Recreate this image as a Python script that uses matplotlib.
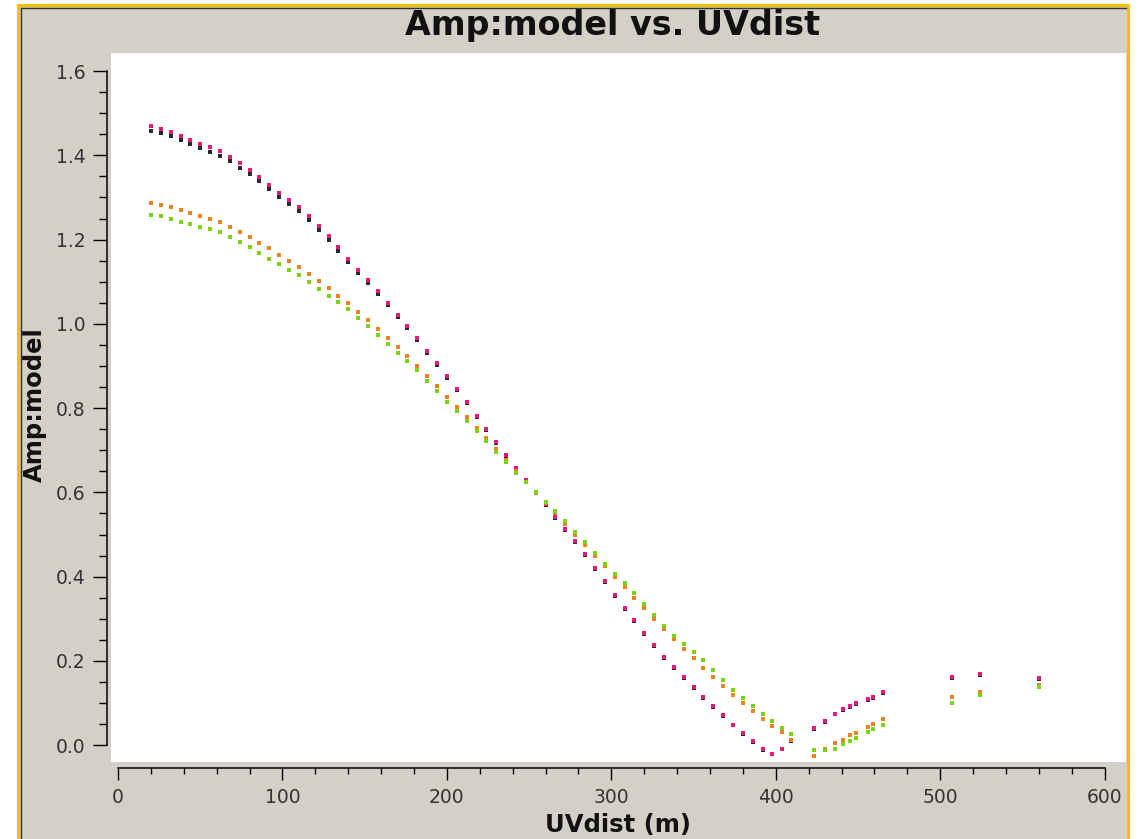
import matplotlib
matplotlib.use("Agg")
import matplotlib.pyplot as plt
from matplotlib.patches import Rectangle
from matplotlib.lines import Line2D
from matplotlib.ticker import MultipleLocator

# uv distance of each baseline (m)
uvdist = [20, 26, 32, 38, 44, 50, 56, 62, 68, 74, 80, 86, 92, 98, 104, 110, 116, 122,
          128, 134, 140, 146, 152, 158, 164, 170, 176, 182, 188, 194, 200, 206, 212,
          218, 224, 230, 236, 242, 248, 254, 260, 266, 272, 278, 284, 290, 296, 302,
          308, 314, 320, 326, 332, 338, 344, 350, 356, 362, 368, 374, 380, 386, 392,
          398, 404, 409, 423, 430, 436, 441, 445, 449, 456, 459, 465, 507, 524, 560]

amp_magenta = [1.470, 1.463, 1.456, 1.447, 1.437, 1.428, 1.420, 1.410, 1.397, 1.382,
               1.366, 1.349, 1.330, 1.311, 1.294, 1.277, 1.256, 1.233, 1.209, 1.182,
               1.155, 1.129, 1.104, 1.077, 1.050, 1.022, 0.995, 0.966, 0.936, 0.906,
               0.876, 0.845, 0.814, 0.782, 0.750, 0.719, 0.688, 0.658, 0.629, 0.601,
               0.572, 0.542, 0.513, 0.484, 0.453, 0.421, 0.389, 0.356, 0.325, 0.296,
               0.266, 0.237, 0.209, 0.185, 0.161, 0.138, 0.115, 0.093, 0.071, 0.049,
               0.029, 0.010, -0.010, -0.020, -0.008, 0.012, 0.041, 0.058, 0.075, 0.085,
               0.092, 0.100, 0.110, 0.115, 0.126, 0.162, 0.168, 0.159]

amp_black = [1.458, 1.452, 1.446, 1.437, 1.428, 1.418, 1.409, 1.399, 1.386, 1.371,
             1.355, 1.338, 1.320, 1.301, 1.284, 1.267, 1.247, 1.224, 1.200, 1.174,
             1.147, 1.121, 1.097, 1.070, 1.044, 1.016, 0.990, 0.961, 0.932, 0.902,
             0.872, 0.842, 0.811, 0.780, 0.748, 0.717, 0.686, 0.656, 0.627, 0.599,
             0.570, 0.540, 0.511, 0.482, 0.451, 0.419, 0.387, 0.354, 0.323, 0.294,
             0.264, 0.235, 0.207, 0.183, 0.159, 0.136, 0.113, 0.091, 0.069, 0.047,
             0.027, 0.008, -0.012, -0.022, -0.010, 0.010, 0.039, 0.056, 0.073, 0.083,
             0.090, 0.098, 0.108, 0.113, 0.124, 0.160, 0.166, 0.157]

amp_orange = [1.287, 1.283, 1.277, 1.270, 1.263, 1.256, 1.250, 1.242, 1.231, 1.219,
              1.206, 1.193, 1.179, 1.164, 1.150, 1.135, 1.119, 1.102, 1.085, 1.067,
              1.049, 1.029, 1.009, 0.988, 0.967, 0.945, 0.924, 0.901, 0.877, 0.852,
              0.827, 0.803, 0.779, 0.754, 0.728, 0.702, 0.676, 0.650, 0.624, 0.599,
              0.574, 0.550, 0.525, 0.500, 0.475, 0.450, 0.425, 0.400, 0.375, 0.350,
              0.325, 0.300, 0.275, 0.252, 0.229, 0.206, 0.184, 0.162, 0.140, 0.119,
              0.099, 0.080, 0.062, 0.046, 0.031, 0.013, -0.026, -0.010, 0.004, 0.013,
              0.023, 0.029, 0.044, 0.051, 0.063, 0.114, 0.126, 0.142]

amp_green = [1.258, 1.255, 1.249, 1.243, 1.237, 1.231, 1.225, 1.217, 1.206, 1.195,
             1.183, 1.169, 1.155, 1.141, 1.128, 1.115, 1.099, 1.083, 1.067, 1.051,
             1.035, 1.015, 0.994, 0.973, 0.952, 0.932, 0.911, 0.890, 0.865, 0.840,
             0.815, 0.793, 0.770, 0.746, 0.721, 0.696, 0.671, 0.647, 0.624, 0.600,
             0.578, 0.556, 0.532, 0.507, 0.482, 0.456, 0.431, 0.407, 0.384, 0.360,
             0.335, 0.309, 0.283, 0.260, 0.241, 0.222, 0.201, 0.178, 0.154, 0.131,
             0.111, 0.092, 0.074, 0.057, 0.040, 0.027, -0.011, -0.012, -0.008, 0.002,
             0.010, 0.018, 0.031, 0.039, 0.047, 0.101, 0.118, 0.138]

W, H = 1145, 839
fig = plt.figure(figsize=(W / 100, H / 100), dpi=100)
fig.patch.set_facecolor("white")

# gray panel with yellow frame
fig.patches.append(Rectangle((18 / W, 0), (1128 - 18) / W, 1 - 5 / H, transform=fig.transFigure,
                             facecolor="#d4d0c8", edgecolor="none", zorder=-2))
frame = "#f5c000"
fig.add_artist(Line2D([18 / W, 18 / W], [0, 1 - 5 / H], color=frame, lw=2.2, zorder=5))
fig.add_artist(Line2D([18 / W, 1128 / W], [1 - 5 / H, 1 - 5 / H], color=frame, lw=2.2, zorder=5))
fig.add_artist(Line2D([1128 / W, 1128 / W], [0, 1 - 5 / H], color=frame, lw=2.2, zorder=5))
fig.add_artist(Line2D([20.5 / W, 1126 / W], [1 - 7.5 / H, 1 - 7.5 / H], color="#333333", lw=1, zorder=5))
fig.add_artist(Line2D([20.5 / W, 20.5 / W], [0, 1 - 7.5 / H], color="#333333", lw=1, zorder=5))

ax = fig.add_axes([111 / W, 1 - 762 / H, (1126 - 111) / W, (762 - 53) / H])
ax.set_facecolor("white")

series = [(amp_black, "#2a2a2a"), (amp_magenta, "#e8197d"),
          (amp_orange, "#f0821e"), (amp_green, "#78d414")]
for amp, col in series:
    ax.plot(uvdist, amp, linestyle="none", marker="s", markersize=2.5,
            markeredgewidth=0, color=col)

ax.set_xlim(-4.3, 613.0)
ax.set_ylim(-0.040, 1.643)

for side in ["top", "right"]:
    ax.spines[side].set_visible(False)
ax.spines["left"].set_position(("outward", 3))
ax.spines["bottom"].set_position(("outward", 4))
ax.spines["left"].set_bounds(0, 1.6)
ax.spines["bottom"].set_bounds(0, 600)
ax.spines["left"].set_linewidth(1.1)
ax.spines["bottom"].set_linewidth(1.1)

ax.xaxis.set_major_locator(MultipleLocator(100))
ax.xaxis.set_minor_locator(MultipleLocator(20))
ax.yaxis.set_major_locator(MultipleLocator(0.2))
ax.yaxis.set_minor_locator(MultipleLocator(0.05))
ax.set_xticks([0, 100, 200, 300, 400, 500, 600])
ax.set_yticks([0.0, 0.2, 0.4, 0.6, 0.8, 1.0, 1.2, 1.4, 1.6])
ax.set_yticklabels(["0.0", "0.2", "0.4", "0.6", "0.8", "1.0", "1.2", "1.4", "1.6"])

ax.tick_params(axis="y", which="major", length=10, width=1.0, pad=5.5,
               labelsize=13.5, labelcolor="#333333")
ax.tick_params(axis="y", which="minor", length=5.8, width=1.0)
ax.tick_params(axis="x", which="major", length=8.6, width=1.0, pad=6,
               labelsize=13.5, labelcolor="#333333")
ax.tick_params(axis="x", which="minor", length=4.3, width=1.0)

fig.text(613 / W, 1 - 25 / H, "Amp:model vs. UVdist", ha="center", va="center",
         fontsize=24, fontweight="bold", color="#111111")
fig.text(618 / W, 1 - 825 / H, "UVdist (m)", ha="center", va="center",
         fontsize=17.5, fontweight="bold", color="#111111")
fig.text(35 / W, 1 - 405 / H, "Amp:model", ha="center", va="center", rotation=90,
         fontsize=17.5, fontweight="bold", color="#111111")

fig.savefig("out.png", dpi=100, facecolor=fig.get_facecolor())
